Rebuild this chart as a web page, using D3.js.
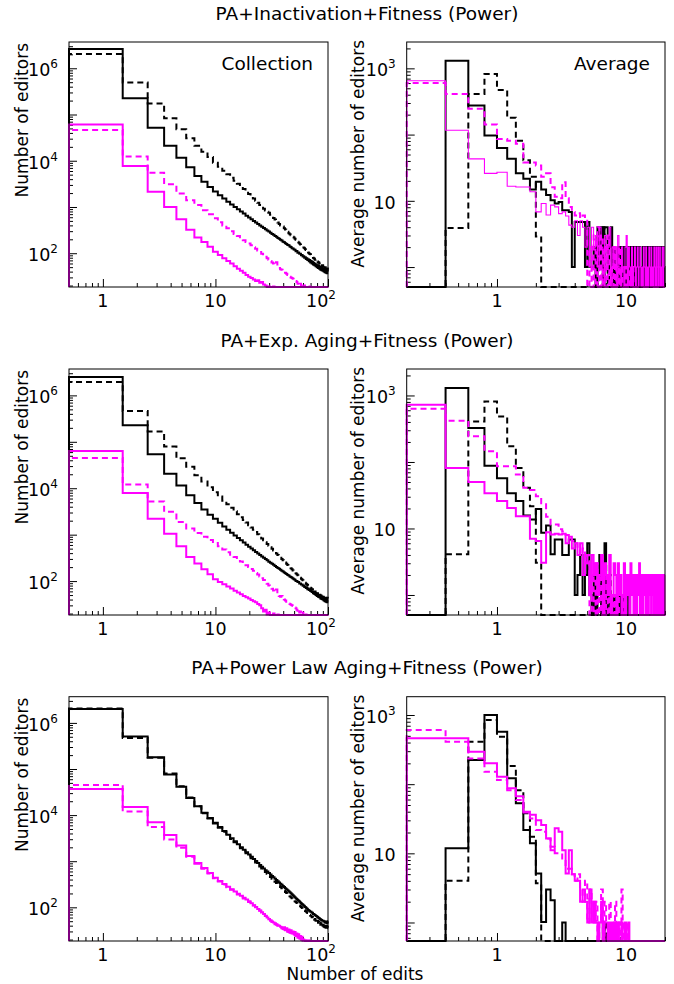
<!DOCTYPE html>
<html>
<head>
<meta charset="utf-8">
<script src="https://cdn.jsdelivr.net/npm/d3@7"></script>
<style>
  body { margin: 0; background: #fff; }
  svg text { font-family: 'DejaVu Sans', sans-serif; fill: #000; }
</style>
</head>
<body>
<script>
// ---------- data ----------
// "Collection" panels: number of editors for 1..100 edits (one bin per edit count)
const inactCollBlackSolid = [2600000,224000,52000,21000,11600,7200,4700,3500,2700,2150,
  1800,1520,1300,1130,1000,890,800,720,650,595, 545,500,462,428,398,372,350,328,312,294,
  278,262,252,236,228,214,206,196,188,178, 172,165,158,150,148,139,136,128,127,120,
  119,111,112,103,104,97,98,90,92,85, 86,80,82,75,78,71,74,67,71,63,
  68,60,65,57,62,55,59,52,57,50, 55,48,53,46,51,44,50,43,48,42, 47,40,46,39,44,38,43,37,45,40];
const inactCollBlackDash = [2040000,490000,174000,83000,48000,30500,21000,15700,12000,9000,
  7400,6100,5100,4300,3700,3200,2800,2450,2150,1900, 1700,1520,1370,1230,1110,1010,920,840,790,750,
  680,625,575,535,495,460,430,400,390,380, 345,325,305,290,272,258,245,232,228,220,
  205,195,185,178,170,162,155,150,146,140, 133,128,122,118,114,108,104,100,96,95,
  90,88,84,80,78,76,72,73,69,70, 66,63,64,60,59,56,58,53,55,55, 51,48,52,46,50,44,48,43,47,45];
const inactCollMagSolid = [61000,7700,2140,1000,540,320,220,175,138,108,
  92,78,68,60,52,46,42,38,34,31, 29,27,25,26,23,24,21,20,18,19,
  0,0,19,0,0,0,0,0,0,0, 0,0,0,0,0,0,0,0,0,0, 0,0,0,0,0,0,0,0,0,0, 0,0,0,0,0,0,0,0,0,0,
  0,0,0,0,0,0,0,0,0,0, 0,0,0,0,0,0,0,0,0,0, 0,0,0,0,0,0,0,0,0,0];
const inactCollMagDash = [46000,12300,5500,3100,1960,1400,1100,850,700,570,
  470,400,345,300,262,235,210,190,175,162, 148,135,125,115,106,98,90,84,78,72,
  68,63,60,56,64,50,48,45,44,42, 40,38,36,34,33,31,30,29,28,27,
  26,25,24,22,23,21,22,20,19,21, 18,20,17,19,0,18,0,17,19,0,
  0,0,0,0,0,0,0,0,0,0, 0,0,0,0,0,0,0,0,0,0, 0,0,0,0,0,0,0,0,0,0];

const expCollBlackSolid = [2500000,226000,54000,20500,11400,7100,4800,3500,2700,2200,
  1800,1500,1280,1100,960,850,760,680,610,550, 505,462,425,392,365,340,318,298,280,262,
  248,236,224,212,202,192,184,176,168,160, 154,148,142,136,132,126,122,118,114,110,
  107,101,101,95,95,89,89,84,84,79, 80,75,76,71,72,67,69,64,66,61,
  63,58,60,55,58,53,56,50,54,48, 52,46,50,45,49,42,47,41,46,40, 45,38,43,37,42,36,41,35,44,42];
const expCollBlackDash = [1940000,460000,167000,79000,44000,29000,19000,14000,10500,8200,
  6600,5400,4500,3800,3200,2750,2380,2080,1820,1600, 1420,1270,1140,1020,920,830,760,690,630,580,
  535,495,455,425,395,365,342,320,300,282, 264,250,236,222,210,200,190,180,170,162,
  155,148,140,134,128,122,118,112,108,104, 100,96,92,88,85,82,79,76,73,72,
  70,66,67,61,63,57,60,54,57,51, 55,48,53,46,51,44,49,43,47,41, 46,40,45,39,44,38,43,37,42,40];
const expCollMagSolid = [63000,7900,2200,1050,560,330,240,180,140,110,
  96,85,76,69,62,57,52,48,45,42, 39,37,35,32,30,26,22,24,19,21,
  17,0,20,0,0,19,0,0,0,0, 0,0,0,0,0,0,0,0,0,0, 0,0,0,0,0,0,0,0,0,0, 0,0,0,0,0,0,0,0,0,0,
  0,0,0,0,0,0,0,0,0,0, 0,0,0,0,0,0,0,0,0,0, 0,0,0,0,0,0,0,0,0,0];
const expCollMagDash = [45000,12000,5200,3100,1870,1350,1080,900,770,660,
  560,480,420,370,330,295,265,240,220,200, 182,166,150,138,126,115,105,96,88,80,
  74,68,63,58,66,50,48,46,48,45, 40,38,36,35,33,32,31,30,29,28,
  27,26,24,23,25,21,22,20,19,21, 18,20,0,19,0,0,18,0,0,0,
  0,0,0,0,0,0,0,0,0,0, 0,0,0,0,0,0,0,0,0,0, 0,0,0,0,0,0,0,0,0,0];

const powCollBlackSolid = [2000000,510000,180000,76000,41000,23500,15500,11200,8700,6800,
  5500,4500,3750,3150,2700,2320,2020,1780,1570,1400, 1250,1120,1010,915,830,760,695,640,595,555,
  515,480,448,418,392,368,346,326,308,290, 275,260,246,234,222,212,202,192,182,174,
  166,158,151,145,139,133,128,123,118,113, 109,105,101,98,94,91,88,85,83,80,
  80,76,76,72,72,69,68,66,65,63, 62,60,59,58,56,55,54,53,52,51, 51,49,50,47,49,46,48,45,47,50];
const powCollBlackDash = [2050000,470000,175000,80000,42000,24000,15500,11000,8400,6600,
  5300,4350,3600,3020,2580,2220,1920,1680,1480,1310, 1160,1040,935,845,765,695,635,580,532,490,
  452,418,388,360,335,313,293,275,258,243, 229,216,204,193,183,174,165,157,150,143,
  136,130,124,119,114,109,105,101,97,93, 90,86,83,81,78,75,73,70,68,66,
  66,61,62,57,59,54,56,51,54,49, 51,46,49,44,47,42,45,41,44,40, 42,38,41,37,40,36,39,35,38,40];
const powCollMagSolid = [37000,15000,7000,3700,2200,1290,910,710,555,436,
  372,320,280,247,220,197,178,162,148,135, 122,111,101,92,85,78,72,66,60,55,
  52,49,47,45,43,41,40,38,37,36, 37,32,35,30,33,28,32,27,30,26,
  29,24,27,22,26,21,24,20,23,19, 20,19,19,0,19,0,0,19,0,0,
  0,0,0,0,0,0,0,0,0,0, 0,0,0,0,0,0,0,0,0,0, 0,0,0,0,0,0,0,0,0,0];
const powCollMagDash = [45000,12000,5500,2950,1950,1250,880,690,540,425,
  362,312,272,240,213,190,172,156,143,131, 120,110,100,92,84,77,71,65,60,56,
  52,48,46,43,42,40,38,37,35,34, 33,32,31,30,29,29,28,27,27,26,
  25,24,24,23,22,22,21,20,20,19, 20,19,0,19,18,0,0,0,19,0,
  0,0,0,0,0,0,0,0,0,0, 0,0,0,0,0,0,0,0,0,0, 0,0,0,0,0,0,0,0,0,0];

// "Average" panels: bins of width 0.2 from 0.2 to 20 edits (99 bins)
const inactAvgBlackSolid = [0,1300,275,97,63,43,26,21.6,14.8,19.4,
  14.8,12.2,10.2,9.1,9.6,7.2,7.2,6.8,1,4.8, 4.8,4.8,4.8,1,4.8,1,1,2,0,4,
  1,4,0,4,4,1,2,4,0,2, 1,0,2,0,2,1,0,2,1,0, 2,0,1,2,0,0,2,1,0,2,
  0,1,2,0,1,0,2,0,1,2, 0,2,1,0,2,0,1,2,0,1, 2,0,0,2,1,0,2,0,2,1, 0,2,0,1,2,0,2,1,0];
const inactAvgBlackDash = [0,3.9,411,822,472,179,81,41,23,2.9,
  0,0,0,0,0,0,0,0,0,0, 0,0,0,0,0,0,0,0,0,0, 0,0,4,0,0,3,0,0,0,0,
  1,0,0,0,2,0,0,0,1,0, 0,0,0,0,0,0,0,0,0,0, 0,0,0,0,0,0,0,0,0,0,
  0,0,0,0,0,0,0,0,0,0, 0,0,0,0,0,0,0,0,0,0, 0,0,0,0,0,0,0,0,0];
const inactAvgMagSolid = [650,116,43,26,27,16.6,16.2,16.2,13.7,6.8,
  9.1,6.1,8.6,8.1,6.4,6.8,5.9,4.3,4.0,5, 3,5,4,2,4,1,4,2,3,1,
  4,2,0,3,1,2,4,0,2,1, 2,0,3,1,0,2,1,0,2,3, 0,2,1,0,2,0,1,2,0,1,
  2,0,1,2,0,1,0,2,1,0, 2,0,1,0,2,1,0,2,0,1, 0,2,1,0,2,0,1,2,0,1, 2,0,1,0,2,1,0,2,1];
const inactAvgMagDash = [602,411,245,142,86,81,73,38,38,34,
  23,26,16,11.5,10.9,19,10.9,8.1,6.8,6, 6.5,5.5,6,5,0,2,0,3,0,4,
  0,3,0,2,0,3,0,1,0,2, 0,1,0,2,0,1,0,0,1,0, 0,1,0,0,0,1,0,0,0,0,
  0,0,0,0,0,0,0,0,0,0, 0,0,0,0,0,0,0,0,0,0, 0,0,0,0,0,0,0,0,0,0, 0,0,0,0,0,0,0,0,0];

const expAvgBlackSolid = [0,1290,324,88,57,34,26,15.7,13.6,19.7,
  8.6,11.1,4.1,6.8,6.8,4.0,4.0,6.8,6.8,1, 2,4,1,2,6,1,0,2,0,1,
  4,0,1,6,0,2,1,0,1,0, 0,1,0,1,0,0,1,0,1,0, 0,1,0,0,0,0,0,0,0,0,
  0,0,0,0,0,0,0,0,0,0, 0,0,0,0,0,0,0,0,0,0, 0,0,0,0,0,0,0,0,0,0, 0,0,0,0,0,0,0,0,0];
const expAvgBlackDash = [0,4.1,407,813,484,172,81,41,21.6,3.05,
  0,0,0,0,0,0,0,0,0,0, 0,0,0,0,0,0,0,0,0,0, 0,0,0,3,0,0,2,0,0,0,
  1,0,0,0,1,0,0,0,1,0, 0,0,0,0,0,0,0,0,0,0, 0,0,0,0,0,0,0,0,0,0,
  0,0,0,0,0,0,0,0,0,0, 0,0,0,0,0,0,0,0,0,0, 0,0,0,0,0,0,0,0,0];
const expAvgMagSolid = [725,81,50,34,26,20.4,15.3,15.3,7.0,6.5,
  3.05,8.8,8.1,8.3,8.1,8.3,6,7.5,5,6, 4,6,2,4,3,1,4,2,3,1,
  2,4,0,3,2,1,4,0,1,3, 2,0,3,1,2,0,1,3,0,2, 1,2,0,3,1,2,0,1,2,0,
  2,1,3,0,2,1,0,2,1,2, 0,2,1,0,2,1,2,0,1,2, 1,0,2,1,2,0,1,2,0,1, 2,0,2,1,0,2,1,0,2];
const expAvgMagDash = [630,417,243,145,86,86,64.6,41,38,30.5,
  24,15,11.5,11.5,9.7,9,8,7,6.5,6, 5,4,5,3,4,0,2,0,3,0,
  2,0,1,0,2,0,1,0,0,1, 0,0,1,0,0,0,1,0,0,0, 0,0,0,0,0,0,0,0,0,0,
  0,0,0,0,0,0,0,0,0,0, 0,0,0,0,0,0,0,0,0,0, 0,0,0,0,0,0,0,0,0,0, 0,0,0,0,0,0,0,0,0];

const powAvgBlackSolid = [0,11.8,224,1000,574,122,53,21.8,14,5.1,
  1.02,3.0,2.1,0,0,1,0,0,0,0, 0,0,0,0,0,0,0,0,0,0, 0,0,1,0,0,0,0,0,0,0,
  0,0,0,0,0,0,0,0,0,0, 0,0,0,0,0,0,0,0,0,0, 0,0,0,0,0,0,0,0,0,0,
  0,0,0,0,0,0,0,0,0,0, 0,0,0,0,0,0,0,0,0,0, 0,0,0,0,0,0,0,0,0];
const powAvgBlackDash = [0,4.0,410,847,486,183,82,38,17.4,3.7,
  0,0,0,0,0,0,0,0,0,0, 0,0,0,0,0,0,0,0,0,0, 0,0,0,1,0,0,0,0,0,0,
  0,0,0,0,0,0,0,0,0,0, 0,0,0,0,0,0,0,0,0,0, 0,0,0,0,0,0,0,0,0,0,
  0,0,0,0,0,0,0,0,0,0, 0,0,0,0,0,0,0,0,0,0, 0,0,0,0,0,0,0,0,0];
const powAvgMagSolid = [460,460,295,200,128,87,67,40,36,30,
  25.7,16.4,11.1,23,20.6,11.1,5.1,11.1,5,4, 4,2,3,2,1,3,1,2,1,0,
  1,2,0,1,1,0,1,0,1,0, 1,0,1,0,0,1,0,0,1,0, 0,1,0,0,0,0,0,0,0,0,
  0,0,0,0,0,0,0,0,0,0, 0,0,0,0,0,0,0,0,0,0, 0,0,0,0,0,0,0,0,0,0, 0,0,0,0,0,0,0,0,0];
const powAvgMagDash = [607,412,236,151,115,82,59,39,32,21.8,
  20.6,16.4,12.4,10,10,8,6,6,5,4, 5,3,2,4,1,3,2,1,2,0,
  1,3,0,2,1,0,2,0,1,0, 2,0,0,1,0,3,0,1,0,0, 1,0,0,0,0,0,0,0,0,0,
  0,0,0,0,0,0,0,0,0,0, 0,0,0,0,0,0,0,0,0,0, 0,0,0,0,0,0,0,0,0,0, 0,0,0,0,0,0,0,0,0];

const titles = ['PA+Inactivation+Fitness (Power)', 'PA+Exp. Aging+Fitness (Power)', 'PA+Power Law Aging+Fitness (Power)'];

// tick labels: base text and optional superscript
const collXLabels = [{v: 1, t: '1'}, {v: 10, t: '10'}, {v: 100, t: '10', s: '2'}];
const collYLabels = [{v: 1e2, t: '10', s: '2'}, {v: 1e4, t: '10', s: '4'}, {v: 1e6, t: '10', s: '6'}];
const avgXLabels = [{v: 1, t: '1'}, {v: 10, t: '10'}];
const avgYLabels = [{v: 10, t: '10'}, {v: 1e3, t: '10', s: '3'}];

// ---------- layout ----------
const w = 674, h = 984;
const leftX = [69, 328], rightX = [406.7, 665];
const rows = [
  {top: 42, bottom: 287, coll: [inactCollBlackSolid, inactCollBlackDash, inactCollMagSolid, inactCollMagDash],
   avg: [inactAvgBlackSolid, inactAvgBlackDash, inactAvgMagSolid, inactAvgMagDash], avgDom: [0.5, 2500], thin: true},
  {top: 369, bottom: 615, coll: [expCollBlackSolid, expCollBlackDash, expCollMagSolid, expCollMagDash],
   avg: [expAvgBlackSolid, expAvgBlackDash, expAvgMagSolid, expAvgMagDash], avgDom: [0.5, 2500]},
  {top: 696.7, bottom: 941, coll: [powCollBlackSolid, powCollBlackDash, powCollMagSolid, powCollMagDash],
   avg: [powAvgBlackSolid, powAvgBlackDash, powAvgMagSolid, powAvgMagDash], avgDom: [0.54, 1840]}
];
const styles = [
  {color: '#000', dash: null},
  {color: '#000', dash: '6,4'},
  {color: '#ff00ff', dash: null},
  {color: '#ff00ff', dash: '6,4'}
];

const svg = d3.select('body').append('svg').attr('width', w).attr('height', h);

function logTicks(dom) {
  let out = [];
  for (let e = Math.floor(Math.log10(dom[0])); e <= Math.ceil(Math.log10(dom[1])); e++) {
    for (let m = 1; m < 10; m++) {
      const v = m * Math.pow(10, e);
      if (v >= dom[0] * 0.999 && v <= dom[1] * 1.001) out.push({v: v, major: m === 1});
    }
  }
  return out;
}

function stepPath(values, edge, x, y) {
  const ymin = y.domain()[0];
  const pts = [[edge(0), ymin]];
  values.forEach((v, i) => {
    const vv = Math.max(v, ymin);
    pts.push([edge(i), vv], [edge(i + 1), vv]);
  });
  return d3.line().x(d => x(d[0])).y(d => y(d[1]))(pts);
}

function addLabel(sel, d) {
  sel.append('tspan').text(d.t);
  if (d.s) sel.append('tspan').attr('font-size', 12).attr('dy', -8).text(d.s);
}

function panel(x, y, series, edge, xLabels, yLabels, thin) {
  const [x0, x1] = x.range();
  const [y0, y1] = y.range();
  const g = svg.append('g');
  const xt = logTicks(x.domain()), yt = logTicks(y.domain());

  [false, true].forEach(maj => {
    g.append('g').attr('transform', 'translate(0,' + y0 + ')')
      .call(d3.axisBottom(x).tickValues(xt.filter(d => d.major === maj).map(d => d.v))
        .tickSize(maj ? -8 : -4).tickFormat(''))
      .call(a => a.select('.domain').remove());
    g.append('g').attr('transform', 'translate(' + x0 + ',0)')
      .call(d3.axisLeft(y).tickValues(yt.filter(d => d.major === maj).map(d => d.v))
        .tickSize(maj ? -8 : -4).tickFormat(''))
      .call(a => a.select('.domain').remove());
  });

  series.forEach((vals, i) => {
    const st = styles[i];
    g.append('path')
      .attr('d', stepPath(vals, edge, x, y))
      .attr('fill', 'none')
      .attr('stroke', st.color)
      .attr('stroke-width', (thin && i === 2) ? 1.1 : 2)
      .attr('stroke-dasharray', st.dash);
  });

  g.append('rect').attr('x', x0).attr('y', y1).attr('width', x1 - x0).attr('height', y0 - y1)
    .attr('fill', 'none').attr('stroke', '#000').attr('stroke-width', 1);

  xLabels.forEach(d => {
    const t = g.append('text').attr('font-size', 17.5).attr('text-anchor', 'middle')
      .attr('x', x(d.v) - (d.v === x.domain()[1] ? 7 : 0)).attr('y', y0 + 20);
    addLabel(t, d);
  });
  yLabels.forEach(d => {
    const t = g.append('text').attr('font-size', 17.5).attr('text-anchor', 'end')
      .attr('x', x0 - 11).attr('y', y(d.v) + 8);
    addLabel(t, d);
  });
}

rows.forEach((r, ri) => {
  const xc = d3.scaleLog().domain([0.5, 100]).range(leftX);
  const yc = d3.scaleLog().domain([18.6, 3.7e6]).range([r.bottom, r.top]);
  panel(xc, yc, r.coll, i => i + 0.5, collXLabels, collYLabels, false);

  const xa = d3.scaleLog().domain([0.2, 20]).range(rightX);
  const ya = d3.scaleLog().domain(r.avgDom).range([r.bottom, r.top]);
  panel(xa, ya, r.avg, i => 0.2 * (i + 1), avgXLabels, avgYLabels, r.thin);

  svg.append('text').attr('x', 367).attr('y', r.top - 22.5).attr('text-anchor', 'middle')
    .attr('font-size', 18.5).text(titles[ri]);
  svg.append('text').attr('transform', 'translate(28,' + (r.top + 1) + ') rotate(-90)')
    .attr('text-anchor', 'end').attr('font-size', 17).text('Number of editors');
  svg.append('text').attr('transform', 'translate(364,' + (r.top - 2) + ') rotate(-90)')
    .attr('text-anchor', 'end').attr('font-size', 17).text('Average number of editors');
});

svg.append('text').attr('x', 313).attr('y', 70).attr('text-anchor', 'end')
  .attr('font-size', 18.5).text('Collection');
svg.append('text').attr('x', 650).attr('y', 70).attr('text-anchor', 'end')
  .attr('font-size', 18.5).text('Average');
svg.append('text').attr('x', 355).attr('y', 980).attr('text-anchor', 'middle')
  .attr('font-size', 17).text('Number of edits');
</script>
</body>
</html>
